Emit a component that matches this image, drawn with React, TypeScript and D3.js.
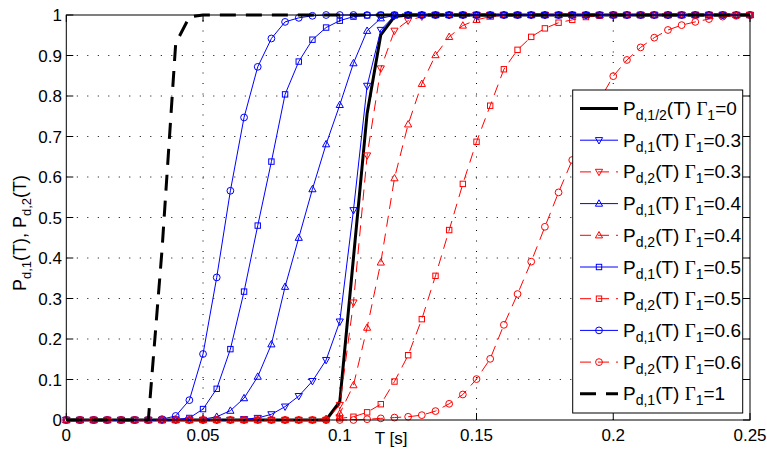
import React from "react";
import * as d3 from "d3";

// sample times T [s], every 0.005 s
const tGrid = d3.range(51).map((i) => +(i * 0.005).toFixed(3));

// P_d,1/2(T), Gamma1 = 0
const pd0 = [
  0, 0, 0, 0, 0, 0, 0, 0, 0, 0, 0, 0, 0, 0, 0, 0, 0, 0, 0, 0,
  0.045, 0.4, 0.757, 0.951, 0.996,
  1, 1, 1, 1, 1, 1, 1, 1, 1, 1, 1, 1, 1, 1, 1, 1, 1, 1, 1, 1, 1, 1, 1, 1, 1, 1,
];
// P_d,1(T), Gamma1 = 0.3
const pd1g03 = [
  0, 0, 0, 0, 0, 0, 0, 0, 0, 0, 0, 0, 0,
  0.002, 0.005, 0.014, 0.033, 0.059, 0.096, 0.148, 0.243, 0.518, 0.825, 0.963, 0.998,
  1, 1, 1, 1, 1, 1, 1, 1, 1, 1, 1, 1, 1, 1, 1, 1, 1, 1, 1, 1, 1, 1, 1, 1, 1, 1,
];
// P_d,2(T), Gamma1 = 0.3
const pd2g03 = [
  0, 0, 0, 0, 0, 0, 0, 0, 0, 0, 0, 0, 0, 0, 0, 0, 0, 0, 0, 0,
  0.037, 0.29, 0.653, 0.868, 0.961, 0.986, 0.996,
  1, 1, 1, 1, 1, 1, 1, 1, 1, 1, 1, 1, 1, 1, 1, 1, 1, 1, 1, 1, 1, 1, 1, 1,
];
// P_d,1(T), Gamma1 = 0.4
const pd1g04 = [
  0, 0, 0, 0, 0, 0, 0, 0, 0, 0,
  0.002, 0.008, 0.023, 0.054, 0.107, 0.187, 0.329, 0.45, 0.57, 0.681, 0.778, 0.881, 0.961, 0.992, 0.999,
  1, 1, 1, 1, 1, 1, 1, 1, 1, 1, 1, 1, 1, 1, 1, 1, 1, 1, 1, 1, 1, 1, 1, 1, 1, 1,
];
// P_d,2(T), Gamma1 = 0.4
const pd2g04 = [
  0, 0, 0, 0, 0, 0, 0, 0, 0, 0, 0, 0, 0, 0, 0, 0, 0, 0, 0,
  0.003, 0.016, 0.086, 0.228, 0.389, 0.597, 0.73, 0.83, 0.901, 0.946, 0.974, 0.988, 0.996,
  1, 1, 1, 1, 1, 1, 1, 1, 1, 1, 1, 1, 1, 1, 1, 1, 1, 1, 1,
];
// P_d,1(T), Gamma1 = 0.5
const pd1g05 = [
  0, 0, 0, 0, 0, 0, 0, 0,
  0.001, 0.005, 0.027, 0.077, 0.175, 0.317, 0.48, 0.638, 0.804, 0.885, 0.939, 0.969, 0.986, 0.996, 0.999,
  1, 1, 1, 1, 1, 1, 1, 1, 1, 1, 1, 1, 1, 1, 1, 1, 1, 1, 1, 1, 1, 1, 1, 1, 1, 1,
];
// P_d,2(T), Gamma1 = 0.5
const pd2g05 = [
  0, 0, 0, 0, 0, 0, 0, 0, 0, 0, 0, 0, 0, 0, 0, 0, 0, 0, 0, 0,
  0.004, 0.008, 0.019, 0.039, 0.095, 0.16, 0.249, 0.356, 0.469, 0.583, 0.687, 0.776, 0.866, 0.914,
  0.946, 0.967, 0.981, 0.988, 0.995, 0.998,
  1, 1, 1, 1, 1, 1, 1, 1, 1, 1, 1,
];
// P_d,1(T), Gamma1 = 0.6
const pd1g06 = [
  0, 0, 0, 0, 0, 0, 0,
  0.002, 0.01, 0.049, 0.163, 0.352, 0.566, 0.747, 0.872, 0.942, 0.983, 0.993, 0.998,
  1, 1, 1, 1, 1, 1, 1, 1, 1, 1, 1, 1, 1, 1, 1, 1, 1, 1, 1, 1, 1, 1, 1, 1, 1, 1, 1, 1, 1, 1, 1, 1,
];
// P_d,2(T), Gamma1 = 0.6
const pd2g06 = [
  0, 0, 0, 0, 0, 0, 0, 0, 0, 0, 0, 0, 0, 0, 0, 0, 0, 0, 0, 0, 0, 0,
  0.002, 0.004, 0.006, 0.008, 0.012, 0.022, 0.04, 0.063, 0.101, 0.151, 0.235, 0.311, 0.391, 0.477,
  0.562, 0.642, 0.72, 0.79, 0.849, 0.889, 0.92, 0.944, 0.963, 0.975, 0.983, 0.99, 0.996, 0.998,
  1,
];
// P_d,1(T), Gamma1 = 1
const pd1g1 = [
  0, 0, 0, 0, 0, 0, 0,
  0.42, 0.93, 0.995,
  1, 1, 1, 1, 1, 1, 1, 1, 1, 1, 1, 1, 1, 1, 1, 1, 1, 1, 1, 1, 1, 1, 1, 1, 1, 1, 1, 1, 1, 1, 1, 1, 1, 1, 1, 1, 1, 1, 1, 1, 1,
];

const xTicks = [0, 0.05, 0.1, 0.15, 0.2, 0.25];
const yTicks = [0, 0.1, 0.2, 0.3, 0.4, 0.5, 0.6, 0.7, 0.8, 0.9, 1];

const BLUE = "#0000ff";
const RED = "#ff0000";

type Series = {
  values: number[];
  color: string;
  width: number;
  dash?: string;
  marker?: "tri-down" | "tri-up" | "square" | "circle";
  sub: string;
  gamma: string;
};

// plotted in this order (also legend order)
const series: Series[] = [
  { values: pd0, color: "#000", width: 3, sub: "d,1/2", gamma: "0" },
  { values: pd1g03, color: BLUE, width: 1, marker: "tri-down", sub: "d,1", gamma: "0.3" },
  { values: pd2g03, color: RED, width: 1, dash: "11,7", marker: "tri-down", sub: "d,2", gamma: "0.3" },
  { values: pd1g04, color: BLUE, width: 1, marker: "tri-up", sub: "d,1", gamma: "0.4" },
  { values: pd2g04, color: RED, width: 1, dash: "11,7", marker: "tri-up", sub: "d,2", gamma: "0.4" },
  { values: pd1g05, color: BLUE, width: 1, marker: "square", sub: "d,1", gamma: "0.5" },
  { values: pd2g05, color: RED, width: 1, dash: "11,7", marker: "square", sub: "d,2", gamma: "0.5" },
  { values: pd1g06, color: BLUE, width: 1, marker: "circle", sub: "d,1", gamma: "0.6" },
  { values: pd2g06, color: RED, width: 1, dash: "11,7", marker: "circle", sub: "d,2", gamma: "0.6" },
  { values: pd1g1, color: "#000", width: 3, dash: "16,10", sub: "d,1", gamma: "1" },
];

const left = 66.3;
const right = 750;
const top = 15;
const bottom = 420;

const Marker = ({ kind, x, y, color }: { kind: string; x: number; y: number; color: string }) => {
  const common = { fill: "none", stroke: color, strokeWidth: 1 };
  if (kind === "circle") return <circle cx={x} cy={y} r={3.4} {...common} />;
  if (kind === "square") return <rect x={x - 2.7} y={y - 2.7} width={5.4} height={5.4} {...common} />;
  if (kind === "tri-up")
    return <polygon points={`${x},${y - 3.8} ${x + 3.6},${y + 2.6} ${x - 3.6},${y + 2.6}`} {...common} />;
  return <polygon points={`${x},${y + 3.8} ${x + 3.6},${y - 2.6} ${x - 3.6},${y - 2.6}`} {...common} />;
};

const App = () => {
  const width = 767;
  const height = 450;
  const x = d3.scaleLinear().domain([0, 0.25]).range([left, right]);
  const y = d3.scaleLinear().domain([0, 1]).range([bottom, top]);
  const line = d3
    .line<number>()
    .x((_, i) => x(tGrid[i]))
    .y((d) => y(d));

  const font = "'Liberation Sans', Arial, Helvetica, sans-serif";
  const legX = 572.7;
  const legY = 90;
  const legW = 170;
  const legH = 323;
  const rowY = (k: number) => 108.5 + k * 31.7;

  return (
    <svg
      width={width}
      height={height}
      style={{ position: "absolute", left: 0, top: 0, background: "#fff" }}
      fontFamily={font}
    >
      <rect width={width} height={height} fill="#fff" />
      {/* grid */}
      <g stroke="#000" strokeWidth={1} strokeDasharray="1,9.5">
        {xTicks.slice(1, -1).map((t) => (
          <line key={`gx${t}`} x1={x(t)} x2={x(t)} y1={bottom} y2={top} />
        ))}
        {yTicks.slice(1, -1).map((t) => (
          <line key={`gy${t}`} x1={left} x2={right} y1={y(t)} y2={y(t)} />
        ))}
      </g>
      {/* ticks */}
      <g stroke="#000" strokeWidth={1}>
        {xTicks.map((t) => (
          <g key={`tx${t}`}>
            <line x1={x(t)} x2={x(t)} y1={bottom} y2={bottom - 7} />
            <line x1={x(t)} x2={x(t)} y1={top} y2={top + 7} />
          </g>
        ))}
        {yTicks.map((t) => (
          <g key={`ty${t}`}>
            <line x1={left} x2={left + 7} y1={y(t)} y2={y(t)} />
            <line x1={right} x2={right - 7} y1={y(t)} y2={y(t)} />
          </g>
        ))}
      </g>
      {/* curves */}
      {series.map((s, k) => (
        <g key={`s${k}`}>
          <path
            d={line(s.values) || ""}
            fill="none"
            stroke={s.color}
            strokeWidth={s.width}
            strokeDasharray={s.dash}
            strokeLinejoin="round"
          />
          {s.marker &&
            s.values.map((v, i) => (
              <Marker key={i} kind={s.marker!} x={x(tGrid[i])} y={y(v)} color={s.color} />
            ))}
        </g>
      ))}
      {/* axes box */}
      <rect x={left} y={top} width={right - left} height={bottom - top} fill="none" stroke="#000" strokeWidth={1} />
      {/* tick labels */}
      <g fontSize={17} fill="#000">
        {xTicks.map((t) => (
          <text key={`lx${t}`} x={x(t)} y={441} textAnchor="middle">
            {String(t)}
          </text>
        ))}
        {yTicks.map((t) => (
          <text key={`ly${t}`} x={62} y={y(t) + 6} textAnchor="end">
            {String(t)}
          </text>
        ))}
      </g>
      <text x={391} y={444} fontSize={17} textAnchor="middle">
        T [s]
      </text>
      <text transform="translate(26,233) rotate(-90)" fontSize={18} textAnchor="middle">
        P<tspan fontSize={13} dy={5}>d,1</tspan>
        <tspan dy={-5}>(T), P</tspan>
        <tspan fontSize={13} dy={5}>d,2</tspan>
        <tspan dy={-5}>(T)</tspan>
      </text>
      {/* legend */}
      <rect x={legX} y={legY} width={legW} height={legH} fill="#fff" stroke="#000" strokeWidth={1} />
      {series.map((s, k) => {
        const ly = rowY(k);
        return (
          <g key={`leg${k}`}>
            <line x1={580} x2={618} y1={ly} y2={ly} stroke={s.color} strokeWidth={s.width} strokeDasharray={s.dash} />
            {s.marker && <Marker kind={s.marker} x={599} y={ly} color={s.color} />}
            <text x={623} y={ly + 6.5} fontSize={19}>
              P<tspan fontSize={14} dy={5}>{s.sub}</tspan>
              <tspan dy={-5}>(T) </tspan>
              <tspan fontFamily="'Liberation Serif', 'Times New Roman', serif">Γ</tspan>
              <tspan fontSize={14} dy={5}>1</tspan>
              <tspan dy={-5}>={s.gamma}</tspan>
            </text>
          </g>
        );
      })}
    </svg>
  );
};

export default App;
